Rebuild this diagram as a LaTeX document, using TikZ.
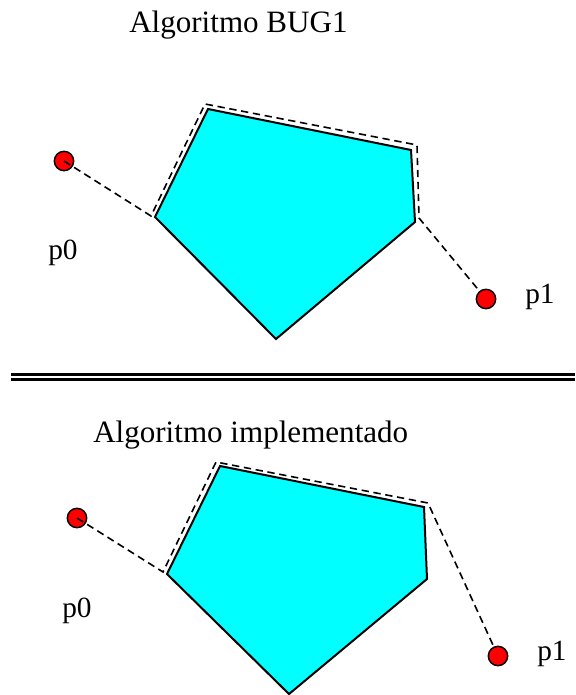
\documentclass[tikz,border=0pt]{standalone}
\usepackage{fontspec}
\setmainfont{Liberation Serif}
\definecolor{aqua}{RGB}{0,255,255}
\definecolor{pointred}{RGB}{255,0,0}

\begin{document}
\begin{tikzpicture}[x=0.75pt,y=0.75pt,yscale=-1,xscale=1,
  point/.style={circle,draw,fill=pointred,line width=1.1pt,inner sep=0pt,minimum size=14.5pt},
  ptlabel/.style={anchor=base west,inner sep=0pt,font=\fontsize{22}{26}\selectfont},
  title/.style={anchor=base west,inner sep=0pt,font=\fontsize{23.3}{28}\selectfont},
  obstacle/.style={draw,fill=aqua,line width=1.5pt},
  route/.style={line width=1.2pt,dash pattern=on 5.5pt off 3.5pt}]
\useasboundingbox (0,0) rectangle (575,695);

% Text Node
\node [title] (ttlbug) at (129,33) {Algoritmo BUG1};

%Shape: Polygon top
\coordinate (ta) at (208,109);
\coordinate (tb) at (411,150);
\coordinate (tc) at (415,222);
\coordinate (td) at (276,339);
\coordinate (te) at (155,217);
\draw [obstacle] (ta) -- (tb) -- (tc) -- (td) -- (te) -- cycle;

%Points top
\node [point] (p0a) at (64,161) {};
\node [point] (p1a) at (486,299) {};

%Route top
\coordinate (ra1) at (151,216);
\coordinate (ra2) at (205,104);
\coordinate (ra3) at (417,145);
\coordinate (ra4) at (419,218);
\draw [route] (p0a.center) -- (ra1) -- (ra2) -- (ra3) -- (ra4) -- (p1a);

% Text Node
\node [ptlabel] (lp0a) at (48,259) {p0};
% Text Node
\node [ptlabel] (lp1a) at (525,303) {p1};

%Double line
\draw [line width=2pt] (11,374.3) -- (575,374.3);
\draw [line width=2pt] (11,379.7) -- (575,379.7);

% Text Node
\node [title] (ttlimpl) at (93,442) {Algoritmo implementado};

%Shape: Polygon bottom
\coordinate (ba) at (220,466);
\coordinate (bb) at (424,507);
\coordinate (bc) at (427,579);
\coordinate (bd) at (289,694);
\coordinate (be) at (167,574);
\draw [obstacle] (ba) -- (bb) -- (bc) -- (bd) -- (be) -- cycle;

%Points bottom
\node [point] (p0b) at (77,518) {};
\node [point] (p1b) at (498,656) {};

%Route bottom
\coordinate (rb1) at (163,572);
\coordinate (rb2) at (216,462);
\coordinate (rb3) at (428,503);
\draw [route] (p0b.center) -- (rb1) -- (rb2) -- (rb3) -- (p1b);

% Text Node
\node [ptlabel] (lp0b) at (62,617) {p0};
% Text Node
\node [ptlabel] (lp1b) at (537,660) {p1};
\end{tikzpicture}
\end{document}
